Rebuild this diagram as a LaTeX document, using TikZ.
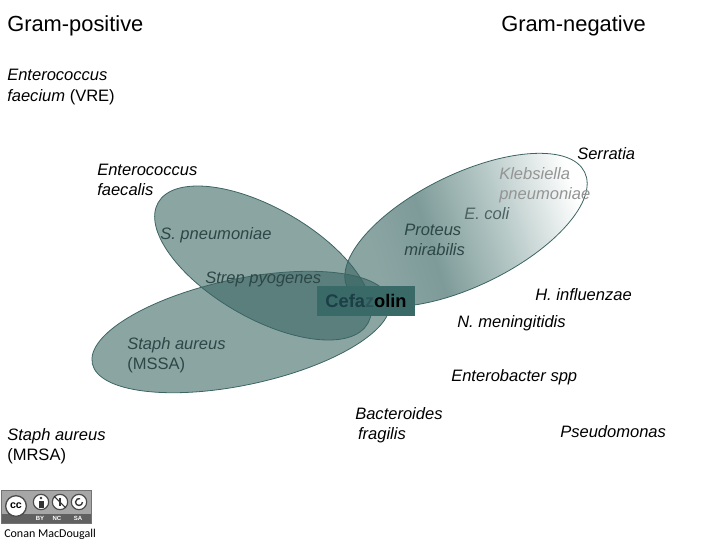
\documentclass[tikz,border=0pt]{standalone}
\usepackage{fontspec}
\setmainfont{Liberation Sans}
\newfontfamily\creditfont{Carlito}
\usepackage{tikz}
\definecolor{lobefill}{RGB}{55,100,97}
\definecolor{lobeline}{RGB}{60,100,98}
\definecolor{lobepale}{RGB}{139,165,163}
\definecolor{lobedeep}{RGB}{126,155,153}
\definecolor{lobemist}{RGB}{185,203,201}
\definecolor{cefabox}{RGB}{58,106,104}
\definecolor{cefatext}{RGB}{28,62,70}
\definecolor{inkdark}{RGB}{45,70,70}
\pgfdeclarehorizontalshading{negshade}{100bp}{color(0bp)=(lobepale); color(30bp)=(lobepale); color(42bp)=(lobedeep); color(58bp)=(lobemist); color(74bp)=(white); color(100bp)=(white)}
\begin{document}
\begin{tikzpicture}[x=0.75pt,y=-0.75pt,
  bug/.style={anchor=west,align=left,inner sep=0pt,yshift=-0.8pt,font=\fontsize{12.4}{15.3}\selectfont\itshape},
  head/.style={anchor=west,inner sep=0pt,yshift=-1pt,font=\fontsize{16.4}{20}\selectfont},
  lobe/.style={draw=lobeline,line width=0.6pt,fill=lobefill,fill opacity=0.58},
  badge/.style={circle,draw=black!70,line width=0.9pt,fill=white,inner sep=0pt,minimum size=11.5pt},
  tiny/.style={font=\fontsize{4.5}{5}\selectfont\bfseries,text=white}]
\useasboundingbox (0,0) rectangle (720,540);
% lobes
\path[shading=negshade,shading angle=18,rotate around={26:(466,230)}] (466,230) ellipse [x radius=132,y radius=56];
\draw[lobeline,line width=0.6pt,rotate around={26:(466,230)}] (466,230) ellipse [x radius=132,y radius=56];
\draw[lobe,rotate around={-30:(263,263)}] (263,263) ellipse [x radius=121,y radius=55];
\draw[lobe,rotate around={12:(241,332)}] (241,332) ellipse [x radius=152,y radius=53];
% drug
\node[fill=cefabox,minimum width=73.5pt,minimum height=22.5pt,inner sep=0pt,font=\fontsize{13.7}{15}\selectfont\bfseries] (cefazolin) at (366,301)
  {{\color{cefatext}Cefa}{\color{cefatext!45!cefabox}z}olin};
% headings
\node[head] (grampos) at (7,25) {Gram-positive};
\node[head] (gramneg) at (501,25) {Gram-negative};
% organisms
\node[bug] (faecium) at (7,86) {Enterococcus\\faecium \textup{(VRE)}};
\node[bug] (faecalis) at (97,179) {Enterococcus\\faecalis};
\node[bug] (serratia) at (577,153) {Serratia};
\node[bug,text=black!42] (klebsiella) at (499,184) {Klebsiella\\pneumoniae};
\node[bug,text=inkdark!85] (ecoli) at (464,213) {E. coli};
\node[bug,text=inkdark] (proteus) at (404,239) {Proteus\\mirabilis};
\node[bug,text=inkdark] (pneumo) at (160,234) {S. pneumoniae};
\node[bug,text=inkdark] (pyogenes) at (205,278) {Strep pyogenes};
\node[bug] (influenzae) at (535,294) {H. influenzae};
\node[bug] (mening) at (457,322) {N. meningitidis};
\node[bug,text=inkdark] (mssa) at (127,354) {Staph aureus\\\textup{(MSSA)}};
\node[bug] (enterobacter) at (451,376) {Enterobacter spp};
\node[bug] (bacteroides) at (355,424) {Bacteroides\\ \,fragilis};
\node[bug] (pseudomonas) at (560,431) {Pseudomonas};
\node[bug] (mrsa) at (7,445) {Staph aureus\\\textup{(MRSA)}};
% licence badge
\fill[black!35] (1,490) rectangle (91,514);
\fill[black!62] (1,514) rectangle (91,523);
\draw[black!55,line width=0.5pt] (1,490) rectangle (91,523);
\node[circle,fill=white,draw=black!70,line width=1pt,minimum size=15.5pt,inner sep=0pt,font=\fontsize{8}{8}\selectfont\bfseries] (ccmark) at (16,506) {cc};
\node[badge] (bymark) at (41,502) {};
\node[badge] (ncmark) at (60,502) {};
\node[badge] (samark) at (79,502) {};
\fill[black!80] (41,498) circle (1.4);
\fill[black!80] (38.5,501) rectangle (43.5,508);
\draw[black!80,line width=0.8pt] (ncmark.north west) -- (ncmark.south east);
\draw[black!80,line width=0.8pt] (60,498) -- (60,506);
\draw[black!80,line width=1pt] (82.5,502) arc (0:290:3.5);
\node[tiny] (bylabel) at (40,518.5) {BY};
\node[tiny] (nclabel) at (57,518.5) {NC};
\node[tiny] (salabel) at (78,518.5) {SA};
\node[anchor=west,inner sep=0pt,font=\creditfont\fontsize{9}{10}\selectfont] (credit) at (4,534) {Conan MacDougall};
\end{tikzpicture}
\end{document}
